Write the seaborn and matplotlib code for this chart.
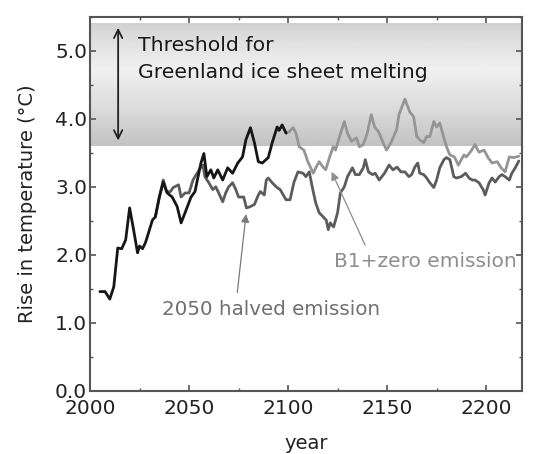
import numpy as np
import pandas as pd
import seaborn as sns
import matplotlib.pyplot as plt
from matplotlib.ticker import MultipleLocator

# -----------------------------
# Data
# -----------------------------

# black: observed / baseline run up to ~2100
base_year = [2005, 2007.6, 2010, 2012, 2014, 2016, 2018, 2020, 2022, 2024,
             2025, 2026.5, 2028, 2029.5, 2031.5, 2033, 2035, 2037, 2039,
             2041.5, 2044, 2046, 2048, 2051, 2053, 2056, 2057.5, 2059, 2061,
             2062.5, 2064.5, 2067, 2069.5, 2072, 2074.6, 2077, 2078.7, 2081,
             2083, 2085, 2087, 2090, 2092, 2094.5, 2095.5, 2097, 2099]
base_temp = [1.46, 1.46, 1.35, 1.53, 2.10, 2.09, 2.22, 2.69, 2.37, 2.03,
             2.13, 2.09, 2.18, 2.32, 2.51, 2.56, 2.85, 3.07, 2.91,
             2.85, 2.71, 2.47, 2.62, 2.85, 2.93, 3.35, 3.49, 3.15, 3.25,
             3.13, 3.25, 3.10, 3.28, 3.20, 3.35, 3.44, 3.69, 3.87,
             3.65, 3.37, 3.35, 3.43, 3.65, 3.88, 3.83, 3.91, 3.79]

# light grey: B1 + zero emission
b1_year = [2099, 2100.5, 2102.5, 2104, 2105.6, 2108, 2110, 2112.7, 2114,
           2115.7, 2117.7, 2119, 2121, 2122.8, 2124, 2126, 2128.4, 2130,
           2132, 2134.5, 2136, 2138, 2140, 2142, 2143.7, 2145.7, 2148,
           2149.7, 2152, 2154.8, 2156, 2159, 2161.5, 2163.4, 2165, 2166.5,
           2168.5, 2170, 2171.6, 2173.6, 2175, 2176.6, 2178.7, 2180, 2181.7,
           2184, 2186, 2188.8, 2190, 2192, 2194.4, 2196.4, 2199, 2201, 2203,
           2205.6, 2207.6, 2209.6, 2211.7, 2214, 2216.5]
b1_temp = [3.79, 3.81, 3.87, 3.79, 3.59, 3.54, 3.37, 3.20, 3.28,
           3.37, 3.29, 3.25, 3.44, 3.59, 3.54, 3.74, 3.96, 3.79,
           3.67, 3.72, 3.59, 3.62, 3.79, 4.06, 3.88, 3.81, 3.65,
           3.54, 3.65, 3.84, 4.06, 4.29, 4.10, 4.03, 3.74, 3.69,
           3.65, 3.74, 3.74, 3.96, 3.88, 3.94, 3.72, 3.59, 3.47,
           3.44, 3.32, 3.47, 3.44, 3.51, 3.62, 3.51, 3.54, 3.43, 3.35,
           3.37, 3.28, 3.22, 3.44, 3.43, 3.45]

# dark grey: 2050 halved emission
half_year = [2033, 2035, 2037, 2038.6, 2040.6, 2042, 2044.7, 2046, 2048,
             2050, 2052, 2053, 2056, 2057, 2058, 2060, 2062, 2063.5, 2065,
             2067, 2068.5, 2070, 2072, 2073.6, 2075, 2077.6, 2079, 2081,
             2083, 2085, 2086, 2088, 2089, 2090, 2092, 2094.4, 2096, 2099,
             2101, 2103, 2105, 2107.6, 2109, 2110.7, 2112.7, 2114, 2115.7,
             2117.7, 2119.3, 2120.3, 2121.3, 2123, 2125, 2126.4, 2128.4, 2130,
             2132.5, 2134, 2136, 2138, 2139, 2140.6, 2142.6, 2144, 2146,
             2148.7, 2151, 2153, 2155, 2157, 2159, 2161, 2162.4, 2164, 2165.5,
             2166.5, 2168.5, 2170, 2171.6, 2173.6, 2175, 2176.6, 2178.7, 2180,
             2181.7, 2183.7, 2185, 2187.5, 2189.6, 2191.4, 2193, 2194.4,
             2196.4, 2198.5, 2199.5, 2201.5, 2203, 2204.6, 2206.6, 2208,
             2209.6, 2211.7, 2213, 2214.7, 2216.5]
half_temp = [2.56, 2.85, 3.10, 2.93, 2.93, 2.99, 3.03, 2.85, 2.91,
             2.91, 3.10, 3.15, 3.29, 3.32, 3.15, 3.06, 2.96, 3.00, 2.91,
             2.78, 2.91, 3.00, 3.06, 2.96, 2.85, 2.85, 2.69, 2.71,
             2.74, 2.88, 2.93, 2.88, 3.10, 3.13, 3.06, 2.99, 2.96, 2.81,
             2.81, 3.07, 3.22, 3.20, 3.15, 3.22, 2.93, 2.76, 2.62,
             2.56, 2.51, 2.37, 2.47, 2.41, 2.62, 2.91, 3.00, 3.15,
             3.28, 3.18, 3.18, 3.28, 3.40, 3.22, 3.18, 3.20, 3.10,
             3.20, 3.32, 3.25, 3.29, 3.22, 3.22, 3.15, 3.18, 3.29, 3.35,
             3.20, 3.18, 3.13, 3.06, 2.99, 3.10, 3.28, 3.40, 3.43,
             3.40, 3.15, 3.13, 3.15, 3.20, 3.13, 3.10, 3.10,
             3.06, 2.96, 2.88, 3.06, 3.13, 3.07, 3.15, 3.18,
             3.15, 3.10, 3.20, 3.28, 3.38]

threshold_low = 3.6
threshold_high = 5.4

# -----------------------------
# Figure
# -----------------------------

sns.set_theme(style="ticks")
plt.rcParams['font.family'] = ['DejaVu Sans']

fig = plt.figure(figsize=(5.39, 4.54), dpi=100)
ax = fig.add_axes([0.167, 0.139, 0.801, 0.824])

# threshold band with vertical grey gradient
grad_pos = [0.0, 0.3, 0.62, 0.85, 1.0]
grad_val = [0.76, 0.86, 0.94, 0.88, 0.82]
ys = np.linspace(0, 1, 200)
band = np.interp(ys, grad_pos, grad_val).reshape(-1, 1)
ax.imshow(band, extent=[2000, 2218, threshold_low, threshold_high],
          origin='lower', aspect='auto', cmap='gray', vmin=0, vmax=1,
          zorder=0)

sns.lineplot(x=half_year, y=half_temp, color='#5c5c5c', lw=2.0, ax=ax,
             zorder=2)
sns.lineplot(x=b1_year, y=b1_temp, color='#959595', lw=2.0, ax=ax,
             zorder=2)
sns.lineplot(x=base_year, y=base_temp, color='#161616', lw=2.0, ax=ax,
             zorder=3)

ax.set_xlim(2000, 2218)
ax.set_ylim(0, 5.5)

ax.xaxis.set_major_locator(MultipleLocator(50))
ax.xaxis.set_minor_locator(MultipleLocator(25))
ax.yaxis.set_major_locator(MultipleLocator(1))
ax.yaxis.set_minor_locator(MultipleLocator(0.5))
ax.set_yticklabels([f"{v:.1f}" for v in ax.get_yticks()])

ax.tick_params(which='both', direction='in', top=True, right=True,
               color='#555555', labelsize=14.5, labelcolor='#222222')
ax.tick_params(which='major', length=4, width=1.2)
ax.tick_params(which='minor', length=2.5, width=1.0)
ax.tick_params(axis='x', pad=6)
ax.tick_params(axis='y', pad=2)

for sp in ax.spines.values():
    sp.set_color('#555555')
    sp.set_linewidth(1.5)

ax.set_xlabel('year', fontsize=14, color='#222222', labelpad=11)
ax.set_ylabel('Rise in temperature (°C)', fontsize=14, color='#222222',
              labelpad=13)

# annotations
ax.annotate('', xy=(2014.2, 5.38), xytext=(2014.2, 3.64),
            arrowprops=dict(arrowstyle='<->,head_length=0.5,head_width=0.25',
                            color='#222222', lw=1.3), zorder=4)
ax.text(2024, 4.88, 'Threshold for\nGreenland ice sheet melting',
        fontsize=14.7, color='#1a1a1a', va='center', ha='left',
        linespacing=1.5, zorder=4)

ax.annotate('2050 halved emission', xy=(2078.8, 2.6),
            xytext=(2036.5, 1.2), fontsize=14.3, color='#707070',
            va='center', ha='left',
            arrowprops=dict(arrowstyle='-|>', color='#7a7a7a', lw=0.9,
                            mutation_scale=12, shrinkA=3, shrinkB=0,
                            relpos=(0.34, 1.0)),
            zorder=4)
ax.annotate('B1+zero emission', xy=(2122, 3.22),
            xytext=(2123, 1.9), fontsize=14.5, color='#8e8e8e',
            va='center', ha='left',
            arrowprops=dict(arrowstyle='-|>', color='#8c8c8c', lw=0.9,
                            mutation_scale=12, shrinkA=3, shrinkB=0,
                            relpos=(0.19, 1.0)),
            zorder=4)

plt.savefig('out.png', dpi=100)
plt.close()
